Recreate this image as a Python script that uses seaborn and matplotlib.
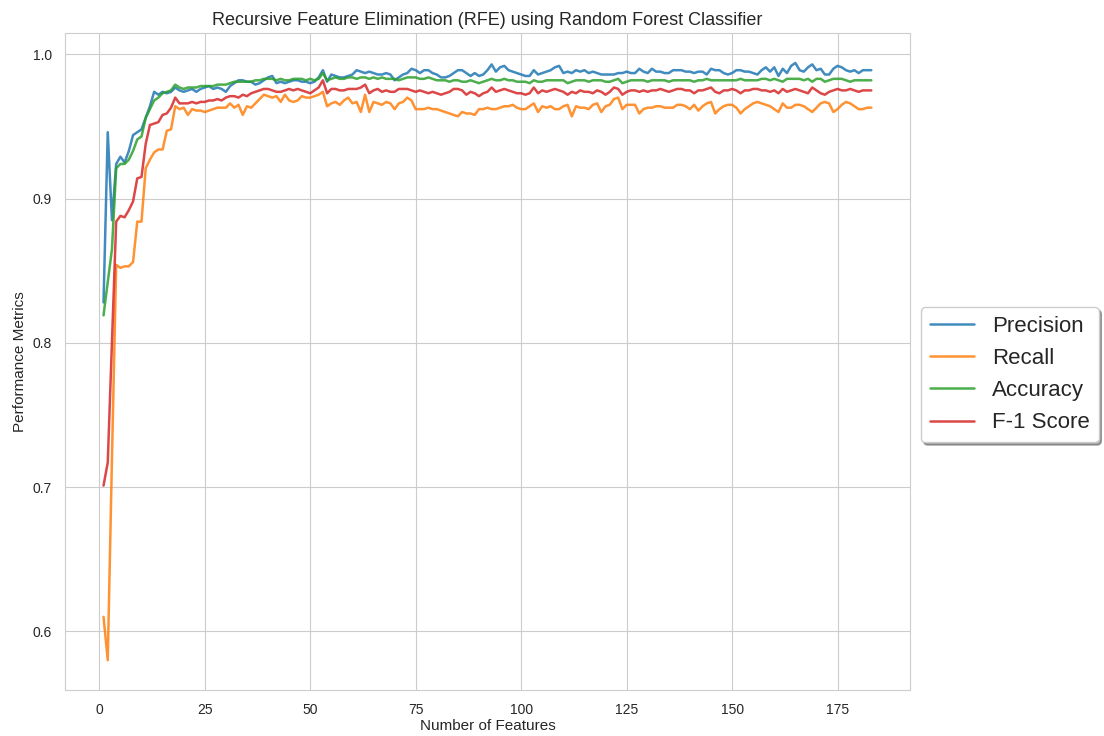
# -*- coding: utf-8 -*-
# RFE performance metrics vs number of features
import numpy as np
import pandas as pd
import seaborn as sns
import matplotlib
matplotlib.use("Agg")
import matplotlib.pyplot as plt

# 数据
n_features = list(range(1, 184))

precision = [
    0.828, 0.946, 0.885, 0.924, 0.929, 0.925, 0.933, 0.944, 0.946, 0.948,
    0.956, 0.964, 0.974, 0.972, 0.974, 0.973, 0.974, 0.977, 0.975, 0.974,
    0.975, 0.976, 0.974, 0.976, 0.977, 0.978, 0.976, 0.977, 0.976, 0.974,
    0.978, 0.980, 0.982, 0.982, 0.981, 0.981, 0.979, 0.980, 0.982, 0.984,
    0.985, 0.980, 0.981, 0.980, 0.981, 0.982, 0.982, 0.981, 0.981, 0.980,
    0.981, 0.984, 0.989, 0.981, 0.986, 0.985, 0.984, 0.984, 0.985, 0.986,
    0.989, 0.988, 0.987, 0.988, 0.987, 0.986, 0.986, 0.987, 0.986, 0.982,
    0.984, 0.986, 0.987, 0.990, 0.989, 0.987, 0.989, 0.989, 0.987, 0.986,
    0.984, 0.984, 0.985, 0.987, 0.989, 0.989, 0.987, 0.985, 0.987, 0.985,
    0.986, 0.989, 0.993, 0.988, 0.991, 0.992, 0.989, 0.988, 0.987, 0.986,
    0.985, 0.985, 0.989, 0.986, 0.987, 0.988, 0.989, 0.991, 0.992, 0.987,
    0.988, 0.987, 0.989, 0.988, 0.989, 0.987, 0.988, 0.987, 0.986, 0.986,
    0.986, 0.986, 0.987, 0.987, 0.988, 0.987, 0.987, 0.990, 0.988, 0.987,
    0.990, 0.988, 0.988, 0.987, 0.987, 0.989, 0.989, 0.989, 0.988, 0.988,
    0.987, 0.988, 0.988, 0.986, 0.990, 0.989, 0.989, 0.987, 0.986, 0.987,
    0.989, 0.989, 0.988, 0.988, 0.987, 0.986, 0.989, 0.991, 0.988, 0.991,
    0.985, 0.990, 0.987, 0.992, 0.994, 0.989, 0.988, 0.991, 0.993, 0.989,
    0.990, 0.986, 0.986, 0.990, 0.992, 0.991, 0.989, 0.988, 0.989, 0.987,
    0.989, 0.989, 0.989,
]

recall = [
    0.610, 0.580, 0.720, 0.854, 0.852, 0.853, 0.853, 0.856, 0.884, 0.884,
    0.921, 0.927, 0.932, 0.934, 0.934, 0.947, 0.948, 0.964, 0.962, 0.963,
    0.958, 0.962, 0.961, 0.961, 0.960, 0.961, 0.962, 0.963, 0.963, 0.963,
    0.966, 0.963, 0.965, 0.958, 0.964, 0.963, 0.966, 0.969, 0.972, 0.971,
    0.970, 0.971, 0.967, 0.972, 0.968, 0.967, 0.968, 0.971, 0.970, 0.970,
    0.971, 0.972, 0.974, 0.964, 0.966, 0.967, 0.965, 0.968, 0.970, 0.966,
    0.967, 0.960, 0.972, 0.960, 0.967, 0.966, 0.965, 0.967, 0.966, 0.962,
    0.966, 0.967, 0.970, 0.968, 0.962, 0.962, 0.962, 0.963, 0.962, 0.962,
    0.961, 0.960, 0.959, 0.958, 0.957, 0.960, 0.959, 0.959, 0.958, 0.962,
    0.962, 0.963, 0.962, 0.962, 0.963, 0.964, 0.964, 0.965, 0.963, 0.962,
    0.962, 0.964, 0.966, 0.960, 0.964, 0.963, 0.964, 0.962, 0.962, 0.964,
    0.965, 0.957, 0.964, 0.963, 0.963, 0.962, 0.965, 0.966, 0.960, 0.964,
    0.965, 0.969, 0.970, 0.962, 0.965, 0.965, 0.965, 0.959, 0.962, 0.963,
    0.963, 0.964, 0.964, 0.963, 0.963, 0.963, 0.965, 0.965, 0.964, 0.962,
    0.965, 0.961, 0.964, 0.966, 0.967, 0.959, 0.962, 0.964, 0.965, 0.965,
    0.963, 0.959, 0.962, 0.964, 0.966, 0.967, 0.966, 0.965, 0.964, 0.962,
    0.960, 0.966, 0.963, 0.963, 0.965, 0.965, 0.964, 0.962, 0.960, 0.963,
    0.966, 0.967, 0.966, 0.960, 0.962, 0.965, 0.967, 0.966, 0.964, 0.962,
    0.962, 0.963, 0.963,
]

accuracy = [
    0.819, 0.842, 0.865, 0.921, 0.924, 0.924, 0.927, 0.933, 0.941, 0.943,
    0.956, 0.962, 0.968, 0.970, 0.973, 0.974, 0.975, 0.979, 0.977, 0.976,
    0.977, 0.977, 0.977, 0.978, 0.978, 0.978, 0.978, 0.979, 0.979, 0.979,
    0.980, 0.981, 0.981, 0.981, 0.981, 0.981, 0.982, 0.982, 0.983, 0.983,
    0.983, 0.982, 0.983, 0.982, 0.982, 0.983, 0.983, 0.983, 0.982, 0.983,
    0.982, 0.983, 0.987, 0.982, 0.983, 0.984, 0.983, 0.983, 0.984, 0.984,
    0.983, 0.984, 0.984, 0.983, 0.984, 0.983, 0.984, 0.983, 0.983, 0.983,
    0.982, 0.983, 0.984, 0.984, 0.984, 0.983, 0.983, 0.984, 0.983, 0.982,
    0.982, 0.982, 0.981, 0.982, 0.982, 0.981, 0.981, 0.982, 0.981, 0.980,
    0.981, 0.982, 0.983, 0.982, 0.982, 0.983, 0.982, 0.982, 0.981, 0.981,
    0.981, 0.980, 0.982, 0.981, 0.981, 0.982, 0.982, 0.982, 0.982, 0.982,
    0.980, 0.981, 0.982, 0.982, 0.982, 0.981, 0.982, 0.982, 0.982, 0.981,
    0.981, 0.982, 0.983, 0.980, 0.981, 0.982, 0.982, 0.982, 0.982, 0.981,
    0.982, 0.982, 0.982, 0.982, 0.981, 0.982, 0.982, 0.982, 0.982, 0.982,
    0.981, 0.982, 0.982, 0.983, 0.982, 0.982, 0.982, 0.982, 0.982, 0.982,
    0.982, 0.983, 0.982, 0.982, 0.982, 0.982, 0.983, 0.983, 0.982, 0.983,
    0.982, 0.981, 0.983, 0.983, 0.983, 0.983, 0.982, 0.983, 0.981, 0.983,
    0.983, 0.981, 0.982, 0.983, 0.983, 0.983, 0.982, 0.981, 0.982, 0.982,
    0.982, 0.982, 0.982,
]

f1_score = [
    0.701, 0.717, 0.800, 0.884, 0.888, 0.887, 0.892, 0.898, 0.914, 0.915,
    0.938, 0.951, 0.952, 0.953, 0.958, 0.959, 0.963, 0.970, 0.966, 0.966,
    0.966, 0.967, 0.966, 0.967, 0.967, 0.968, 0.968, 0.969, 0.968, 0.970,
    0.971, 0.971, 0.970, 0.972, 0.971, 0.973, 0.974, 0.975, 0.976, 0.976,
    0.975, 0.974, 0.974, 0.975, 0.976, 0.975, 0.976, 0.975, 0.974, 0.973,
    0.975, 0.977, 0.982, 0.973, 0.976, 0.976, 0.975, 0.975, 0.976, 0.976,
    0.976, 0.977, 0.979, 0.973, 0.975, 0.976, 0.974, 0.975, 0.974, 0.974,
    0.976, 0.976, 0.976, 0.975, 0.974, 0.975, 0.974, 0.973, 0.974, 0.973,
    0.972, 0.973, 0.974, 0.976, 0.976, 0.975, 0.972, 0.974, 0.973, 0.971,
    0.973, 0.974, 0.977, 0.974, 0.975, 0.976, 0.975, 0.974, 0.973, 0.973,
    0.972, 0.973, 0.977, 0.973, 0.975, 0.974, 0.975, 0.976, 0.975, 0.974,
    0.972, 0.974, 0.973, 0.975, 0.974, 0.974, 0.973, 0.975, 0.974, 0.972,
    0.974, 0.977, 0.976, 0.972, 0.974, 0.975, 0.975, 0.974, 0.975, 0.974,
    0.975, 0.975, 0.976, 0.975, 0.974, 0.975, 0.976, 0.976, 0.975, 0.975,
    0.973, 0.975, 0.975, 0.976, 0.977, 0.974, 0.973, 0.975, 0.975, 0.976,
    0.975, 0.973, 0.975, 0.975, 0.976, 0.976, 0.975, 0.975, 0.974, 0.975,
    0.973, 0.976, 0.974, 0.975, 0.976, 0.975, 0.974, 0.973, 0.977, 0.975,
    0.973, 0.972, 0.974, 0.975, 0.976, 0.975, 0.975, 0.976, 0.975, 0.974,
    0.975, 0.975, 0.975,
]

metric_names = ["Precision", "Recall", "Accuracy", "F-1 Score"]

# 整理成长表
df = pd.DataFrame({
    "n": n_features,
    "Precision": precision,
    "Recall": recall,
    "Accuracy": accuracy,
    "F-1 Score": f1_score,
})
long_df = df.melt(id_vars="n", value_vars=metric_names,
                  var_name="metric", value_name="score")

# 风格
sns.set_style("whitegrid")
plt.rcParams["font.family"] = ["Liberation Sans", "DejaVu Sans"]

fig = plt.figure(figsize=(11.04, 7.36), dpi=100)
ax = fig.add_axes([0.059, 0.0625, 0.765, 0.8925])

sns.lineplot(data=long_df, x="n", y="score", hue="metric",
             hue_order=metric_names, palette="tab10", linewidth=1.8,
             alpha=0.85, ax=ax)

ax.set_title("Recursive Feature Elimination (RFE) using Random Forest Classifier",
             fontsize=13)
ax.set_xlabel("Number of Features", fontsize=11, labelpad=1)
ax.set_ylabel("Performance Metrics", fontsize=11, labelpad=4)
ax.tick_params(axis="both", labelsize=10, pad=6)
ax.set_xticks([0, 25, 50, 75, 100, 125, 150, 175])
ax.set_yticks([0.6, 0.7, 0.8, 0.9, 1.0])

ax.legend(loc="center left", bbox_to_anchor=(1.0, 0.48), fontsize=16,
          shadow=True, fancybox=True, frameon=True, framealpha=1,
          edgecolor="#cccccc")

fig.savefig("out.png", dpi=100)
